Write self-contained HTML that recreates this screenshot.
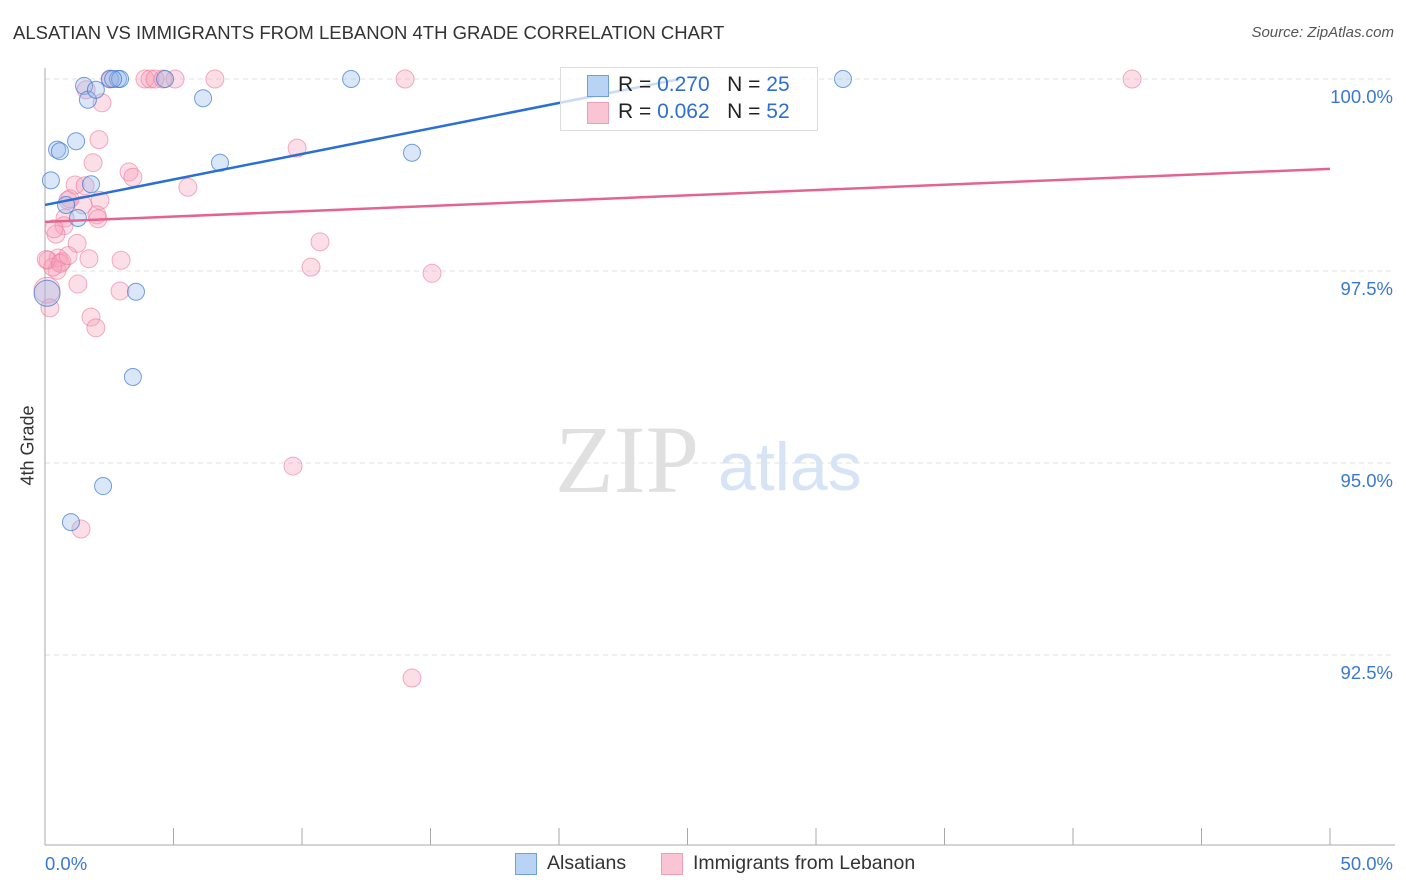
<!DOCTYPE html>
<html><head><meta charset="utf-8"><style>
body{margin:0;background:#fff;font-family:"Liberation Sans",sans-serif;}
#wrap{position:relative;width:1406px;height:892px;overflow:hidden;}
.t{position:absolute;white-space:nowrap;}
</style></head><body>
<div id="wrap">
<div class="t" style="left:13px;top:22px;font-size:18.5px;color:#333;">ALSATIAN VS IMMIGRANTS FROM LEBANON 4TH GRADE CORRELATION CHART</div>
<div class="t" style="right:12px;top:24px;font-size:15px;color:#555;font-style:italic;">Source: ZipAtlas.com</div>
<svg id="svg" width="1406" height="892" style="position:absolute;left:0;top:0"></svg>
<div class="t" style="left:-2px;top:445px;font-size:18px;color:#333;transform:rotate(-90deg);transform-origin:center;width:60px;text-align:center;">4th Grade</div>
<div style="position:absolute;left:560px;top:67px;width:256px;height:62px;border:1px solid #ddd;background:rgba(255,255,255,0.75);"></div>
<div style="position:absolute;left:587px;top:75px;width:20px;height:20px;background:#b9d3f5;border:1px solid #6f9fe0;"></div>
<div style="position:absolute;left:587px;top:102px;width:20px;height:20px;background:#f9c4d4;border:1px solid #eba0b8;"></div>
<div class="t" style="left:618px;top:73px;font-size:21px;color:#222;">R = <span style="color:#2e6fd0">0.270</span>&nbsp;&nbsp;&nbsp;N = <span style="color:#2e6fd0">25</span></div>
<div class="t" style="left:618px;top:100px;font-size:21px;color:#222;">R = <span style="color:#2e6fd0">0.062</span>&nbsp;&nbsp;&nbsp;N = <span style="color:#2e6fd0">52</span></div>
<div style="position:absolute;left:515px;top:853px;width:20px;height:20px;background:#b9d3f5;border:1px solid #6f9fe0;"></div>
<div class="t" style="left:547px;top:852px;font-size:19.5px;color:#333;">Alsatians</div>
<div style="position:absolute;left:661px;top:853px;width:20px;height:20px;background:#f9c4d4;border:1px solid #eba0b8;"></div>
<div class="t" style="left:693px;top:852px;font-size:19.5px;color:#333;">Immigrants from Lebanon</div>
</div>
<script>
const yTicks=[100,97.5,95,92.5];
const yTickLabels=["100.0%","97.5%","95.0%","92.5%"];
const xTickLabels=["0.0%","50.0%"];
const blueX=[1.52,1.67,1.98,2.53,2.84,2.92,4.67,6.15,11.91,31.05,0.47,0.58,1.21,0.23,1.79,0.82,1.28,6.81,14.28,3.54,3.42,2.26,1.01,0.08,2.65];
const blueY=[99.91,99.73,99.86,100,100,100,100,99.75,100,100,99.08,99.06,99.19,98.68,98.63,98.36,98.19,98.91,99.04,97.23,96.12,94.70,94.23,97.21,100];
const pinkX=[1.60,2.22,2.53,3.89,4.09,4.28,5.06,6.61,14.01,42.30,2.10,1.87,3.27,3.42,1.17,1.56,5.56,9.81,0.89,2.14,1.48,2.02,2.06,0.78,0.74,0.43,1.25,10.70,0.12,0.51,0.66,1.71,2.96,0.47,10.35,15.06,1.28,2.92,0.08,0.19,1.79,1.98,9.65,1.40,14.28,4.59,0.97,0.3,0.05,0.6,0.35,0.9];
const pinkY=[99.86,99.69,100,100,100,100,100,100,100,100,99.21,98.91,98.79,98.72,98.62,98.61,98.59,99.10,98.42,98.42,98.36,98.23,98.18,98.19,98.09,97.98,97.86,97.88,97.64,97.67,97.62,97.66,97.64,97.51,97.55,97.47,97.33,97.24,97.25,97.02,96.90,96.76,94.96,94.14,92.20,100,98.44,97.55,97.65,97.60,98.05,97.70];
const blueLine=[[0,98.36],[24.7,100]];
const pinkLine=[[0,98.14],[50,98.83]];
const sx=v=>45+v*25.7;
const sy=v=>79+(100-v)*76.8;
const svg=document.getElementById('svg');
const NS='http://www.w3.org/2000/svg';
function mk(tag,attrs){const e=document.createElementNS(NS,tag);for(const k in attrs)e.setAttribute(k,attrs[k]);svg.appendChild(e);return e;}
yTicks.forEach((t,i)=>{
 const g=mk('line',{x1:45,x2:1395,y1:sy(t),y2:sy(t),stroke:'#e2e2e2','stroke-dasharray':'5,4'});
 
 
 const tx=mk('text',{x:1393,y:sy(t)+24,'text-anchor':'end','font-size':18.5,fill:'#3a78d4','font-family':'Liberation Sans, sans-serif'});
 tx.textContent=yTickLabels[i];
 
 
});
const ax=mk('line',{x1:45,x2:45,y1:68,y2:845,stroke:'#aaa'});


const bx=mk('line',{x1:45,x2:1395,y1:845,y2:845,stroke:'#aaa'});


for(let i=0;i<=10;i++){
 const tk=mk('line',{x1:sx(i*5),x2:sx(i*5),y1:828,y2:845,stroke:'#aaa'});
 
 
}
[[0,'start',45],[50,'end',1393]].forEach((p,i)=>{
 const tx=mk('text',{x:p[2],y:870,'text-anchor':p[1],'font-size':18.5,fill:'#3a78d4','font-family':'Liberation Sans, sans-serif'});
 tx.textContent=xTickLabels[i];
 
 
});
const wm1=mk('text',{x:555,y:492,'font-size':96,fill:'#e0e0e0','font-family':'Liberation Serif, serif'});
wm1.textContent='ZIP';


const wm2=mk('text',{x:718,y:490,'font-size':68,fill:'#d6e4f5','font-family':'Liberation Sans, sans-serif'});
wm2.textContent='atlas';


pinkX.forEach((x,i)=>{
 const c=mk('circle',{cx:sx(x),cy:sy(pinkY[i]),r:(i==38?13:9),fill:'rgba(245,160,185,0.35)',stroke:'rgba(235,120,155,0.6)','stroke-width':1});
 
 
});
blueX.forEach((x,i)=>{
 const c=mk('circle',{cx:sx(x),cy:sy(blueY[i]),r:(i==23?13:8.5),fill:'rgba(150,185,235,0.35)',stroke:'rgba(60,120,210,0.7)','stroke-width':1});
 
 
});
const l1=mk('line',{x1:sx(blueLine[0][0]),y1:sy(blueLine[0][1]),x2:sx(blueLine[1][0]),y2:sy(blueLine[1][1]),stroke:'#2a6fd6','stroke-width':2.5});


const l2=mk('line',{x1:sx(pinkLine[0][0]),y1:sy(pinkLine[0][1]),x2:sx(pinkLine[1][0]),y2:sy(pinkLine[1][1]),stroke:'#e5648f','stroke-width':2.5});


</script>
</body></html>
